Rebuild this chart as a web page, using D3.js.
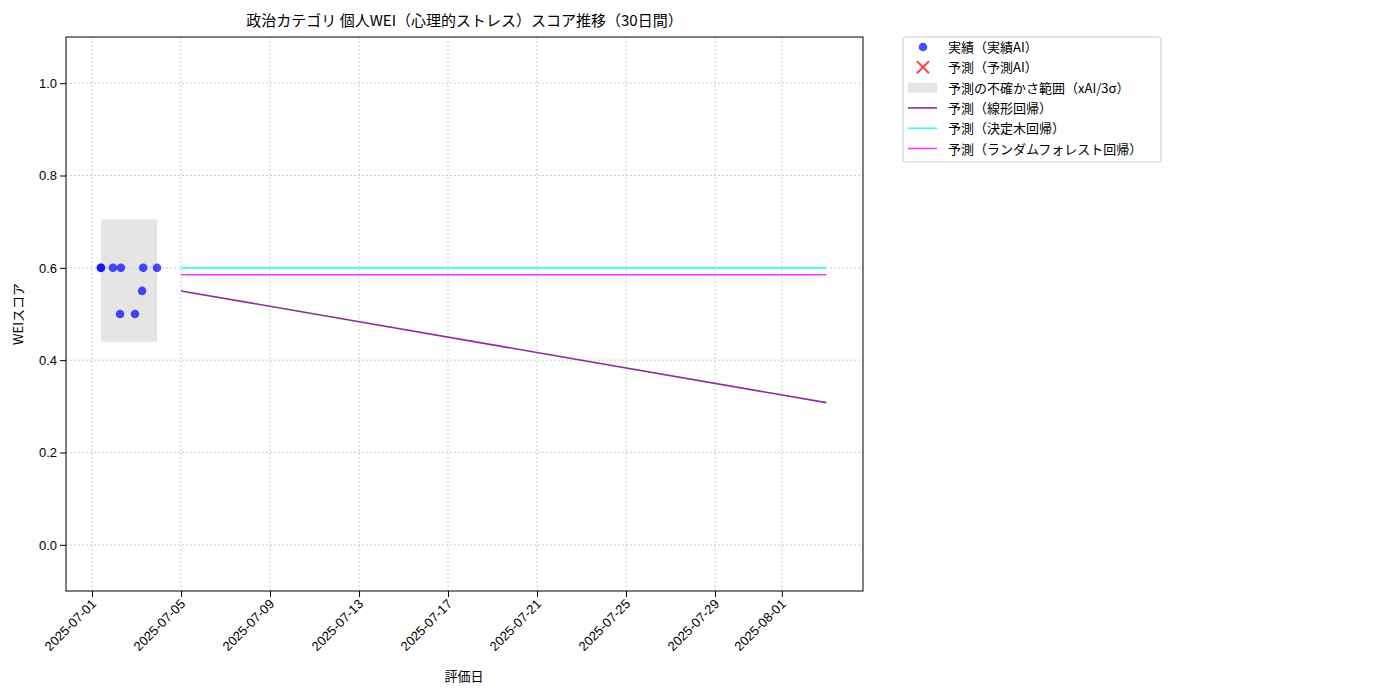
<!DOCTYPE html><html><head><meta charset="utf-8">
<script src="https://cdn.jsdelivr.net/npm/d3@7"></script>
<style>body{margin:0;background:#fff;font-family:"Noto Sans CJK JP","DejaVu Sans",sans-serif}</style></head><body>
<svg id="c" width="1400" height="700"></svg>
<script>
const actualDays=[0.4,0.4,0.94,1.3,1.26,1.93,2.25,2.3,2.92];
const actualVals=[0.6,0.6,0.6,0.6,0.5,0.5,0.55,0.6,0.6];
const bandDays=[0.4,2.92];
const bandVals=[0.44,0.705];
const predDays=[4,33];
const linearVals=[0.55,0.308];
const treeVals=[0.6,0.6];
const forestVals=[0.585,0.585];
const yTicks=[0,0.2,0.4,0.6,0.8,1.0];
const xTickLabels=["2025-07-01","2025-07-05","2025-07-09","2025-07-13","2025-07-17","2025-07-21","2025-07-25","2025-07-29","2025-08-01"];
const legendLabels=["実績（実績AI）","予測（予測AI）","予測の不確かさ範囲（xAI/3σ）","予測（線形回帰）","予測（決定木回帰）","予測（ランダムフォレスト回帰）"];

const base=new Date(2025,6,1);
const d=v=>new Date(base.getTime()+v*864e5);
const svg=d3.select("#c");
const L=66,R=863,T=37,B=591;
const x=d3.scaleTime().domain([d(-1.17),d(34.65)]).range([L,R]);
const y=d3.scaleLinear().domain([-0.1,1.1]).range([B,T]);
const xt=xTickLabels.map(s=>{const [a,b,c]=s.split("-").map(Number);return new Date(a,b-1,c);});
const g=svg.append("g");
g.selectAll(".gx").data(xt).join("line").attr("x1",t=>x(t)).attr("x2",t=>x(t)).attr("y1",T).attr("y2",B).attr("stroke","#ccc").attr("stroke-dasharray","2,2");
g.selectAll(".gy").data(yTicks).join("line").attr("y1",t=>y(t)).attr("y2",t=>y(t)).attr("x1",L).attr("x2",R).attr("stroke","#ccc").attr("stroke-dasharray","2,2");
svg.append("rect").attr("x",x(d(bandDays[0]))).attr("width",x(d(bandDays[1]))-x(d(bandDays[0]))).attr("y",y(bandVals[1])).attr("height",y(bandVals[0])-y(bandVals[1])).attr("fill","#d3d3d3").attr("opacity",0.6);
const line=d3.line().x((v,i)=>x(d(predDays[i]))).y(v=>y(v));
[[linearVals,"#8e2c9a"],[treeVals,"#33ffff"],[forestVals,"#ff33ff"]].forEach(([v,c])=>svg.append("path").attr("d",line(v)).attr("stroke",c).attr("stroke-width",1.6).attr("fill","none"));
svg.selectAll(".p").data(actualDays).join("circle").attr("cx",v=>x(d(v))).attr("cy",(v,i)=>y(actualVals[i])).attr("r",4.3).attr("fill","blue").attr("fill-opacity",0.7);
svg.append("rect").attr("x",L).attr("y",T).attr("width",R-L).attr("height",B-T).attr("fill","none").attr("stroke","#000");
const xa=svg.append("g").attr("transform",`translate(0,${B})`).call(d3.axisBottom(x).tickValues(xt).tickFormat((t,i)=>xTickLabels[i]).tickSizeOuter(0));
xa.select(".domain").remove();
xa.selectAll("text").attr("transform","rotate(-45)").attr("text-anchor","end").attr("dx","-0.5em").attr("dy","0.3em").style("font-size","13px").attr("fill","#000");
const ya=svg.append("g").attr("transform",`translate(${L},0)`).call(d3.axisLeft(y).tickValues(yTicks).tickFormat(d3.format(".1f")));
ya.select(".domain").remove();
ya.selectAll("text").style("font-size","13px").attr("fill","#000");
svg.append("text").attr("x",(L+R)/2).attr("y",26).attr("text-anchor","middle").style("font-size","15px").text("政治カテゴリ 個人WEI（心理的ストレス）スコア推移（30日間）");
svg.append("text").attr("x",464).attr("y",681).attr("text-anchor","middle").style("font-size","13px").text("評価日");
svg.append("text").attr("transform",`translate(23,${(T+B)/2}) rotate(-90)`).attr("text-anchor","middle").style("font-size","13px").text("WEIスコア");
const lg=svg.append("g").attr("transform","translate(903,37)");
lg.append("rect").attr("width",258).attr("height",125).attr("fill","#fff").attr("stroke","#ccc").attr("rx",3);
legendLabels.forEach((s,i)=>{const yy=10+i*20.3;const r=lg.append("g").attr("transform",`translate(0,${yy})`);
 if(i==0)r.append("circle").attr("cx",20).attr("cy",0).attr("r",4.3).attr("fill","blue").attr("fill-opacity",0.7);
 else if(i==1){r.append("path").attr("d","M14,-6L26,6M14,6L26,-6").attr("stroke","#ff4444").attr("stroke-width",2);}
 else if(i==2)r.append("rect").attr("x",5).attr("y",-5).attr("width",29).attr("height",10).attr("fill","#d3d3d3").attr("opacity",0.6);
 else r.append("line").attr("x1",5).attr("x2",34).attr("stroke",["#8e2c9a","#33ffff","#ff33ff"][i-3]).attr("stroke-width",1.6);
 r.append("text").attr("x",45).attr("y",5).style("font-size","13px").text(s);});
</script></body></html>
